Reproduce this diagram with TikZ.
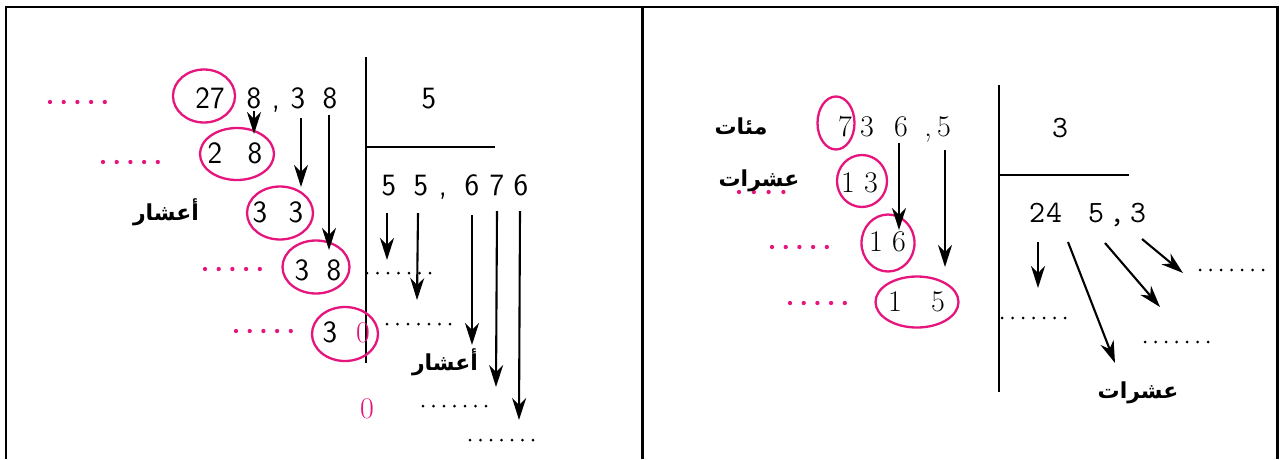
\documentclass[tikz,border=0pt]{standalone}
\usepackage{fontspec}
\TeXXeTstate=1
\newfontfamily\arabicfont[Script=Arabic]{DejaVu Sans}
\usetikzlibrary{shapes.geometric,arrows.meta}
\definecolor{pk}{RGB}{230,20,125}
\tikzset{
  frame/.style={line width=2.8pt, black},
  divline/.style={line width=2.5pt, black},
  digL/.style={inner sep=0pt, anchor=base, font=\sffamily\fontsize{31}{31}\selectfont},
  digR/.style={inner sep=0pt, anchor=base, font=\fontsize{30}{30}\selectfont},
  digM/.style={inner sep=0pt, anchor=base, font=\ttfamily\fontsize{31}{31}\selectfont},
  ring/.style={draw=pk, ellipse, line width=2.3pt, inner sep=0pt},
  arr/.style={line width=2.1pt, -{Stealth[length=22pt,width=14pt,inset=7pt]}},
  ar/.style={inner sep=0pt, font=\arabicfont\bfseries\fontsize{22}{26}\selectfont},
  pdots/.style={draw=pk, line width=4.3pt, line cap=round, dash pattern=on 0pt off 13.7pt},
  bdots/.style={draw=black, line width=3pt, line cap=round, dash pattern=on 0pt off 10.5pt},
}
\begin{document}
\begin{tikzpicture}[x=1pt,y=-1pt]
\useasboundingbox (0,0) rectangle (1284,459);
% frame
\draw[frame] (6,459) -- (6,7) -- (1277.5,7) -- (1277.5,459);
\draw[frame] (642.5,7) -- (642.5,459);

%================ LEFT PANEL ================
% dividend row
\node[digL] (L27) at (210,108) {27};
\node[digL] (L8a) at (254,108) {8};
\node[digL] (Lc1) at (276,108) {,};
\node[digL] (L3a) at (298,108) {3};
\node[digL] (L8b) at (330,108) {8};
\node[ring, minimum width=62pt, minimum height=53pt] (E27) at (204,96) {};
\draw[pdots] (50,102) -- (110,102);

% division bracket
\draw[divline] (366,57) -- (366,363);
\draw[divline] (366,147) -- (495,147);
\node[digL] (Ldiv) at (429,108) {5};

% quotient
\node[digL] (Q1) at (389,195) {5};
\node[digL] (Q2) at (421,195) {5};
\node[digL] (Qc) at (443,195) {,};
\node[digL] (Q3) at (472,195) {6};
\node[digL] (Q4) at (497,195) {7};
\node[digL] (Q5) at (521,195) {6};

% partial remainders
\node[digL] (R28a) at (215,163) {2};
\node[digL] (R28b) at (255,163) {8};
\node[ring, minimum width=74pt, minimum height=52pt] (E28) at (237,154) {};
\draw[pdots] (103,162) -- (160,162);

\node[digL] (R33a) at (260,222) {3};
\node[digL] (R33b) at (296,222) {3};
\node[ring, minimum width=66pt, minimum height=53pt] (E33) at (280,213) {};
\node[ar] (T1) at (166,212) {\beginR أعشار\endR};

\node[digL] (R38a) at (302,280) {3};
\node[digL] (R38b) at (334,280) {8};
\node[ring, minimum width=67pt, minimum height=53pt] (E38) at (316,267) {};
\draw[pdots] (205,269) -- (262,269);

\node[digL] (R30a) at (330,342) {3};
\node[digR, text=pk] (R30b) at (363,342) {0};
\node[ring, minimum width=66pt, minimum height=54pt] (E30) at (345,334) {};
\draw[pdots] (236,331) -- (293,331);

\node[ar] (T2) at (445,362) {\beginR أعشار\endR};
\node[digR, text=pk] (Z0) at (367,418) {0};

% black dotted rows
\draw[bdots] (367,273) -- (434,273);
\draw[bdots] (387,324) -- (454,324);
\draw[bdots] (423,406) -- (490,406);
\draw[bdots] (470,440) -- (537,440);

% arrows (left)
\coordinate (a1s) at (254,111); \coordinate (a1e) at (254,134);
\coordinate (a2s) at (301,118); \coordinate (a2e) at (301,187);
\coordinate (a3s) at (329,115); \coordinate (a3e) at (329,250);
\coordinate (a4s) at (387,213); \coordinate (a4e) at (387,260);
\coordinate (a5s) at (418,213); \coordinate (a5e) at (417,300);
\coordinate (a6s) at (472,215); \coordinate (a6e) at (472,345);
\coordinate (a7s) at (497,211); \coordinate (a7e) at (496,387);
\coordinate (a8s) at (520,211); \coordinate (a8e) at (519,420);
\draw[arr] (a1s) -- (a1e);
\draw[arr] (a2s) -- (a2e);
\draw[arr] (a3s) -- (a3e);
\draw[arr] (a4s) -- (a4e);
\draw[arr] (a5s) -- (a5e);
\draw[arr] (a6s) -- (a6e);
\draw[arr] (a7s) -- (a7e);
\draw[arr] (a8s) -- (a8e);

%================ RIGHT PANEL ================
\node[ar] (T3) at (741,126) {\beginR مئات\endR};
\draw[pdots, dash pattern=on 0pt off 14.8pt] (739,192) -- (786,192);
\node[ar] (T4) at (759,181) {\beginR عشرات\endR};

\node[digR] (D7) at (845,136) {7};
\node[digR] (D3) at (867,136) {3};
\node[digR] (D6) at (901,136) {6};
\node[digR] (Dc) at (928,136) {,};
\node[digR] (D5) at (944,136) {5};
\node[ring, minimum width=37pt, minimum height=53pt] (E7) at (836,123) {};

\node[digR] (S13a) at (848,192) {1};
\node[digR] (S13b) at (871,192) {3};
\node[ring, minimum width=50pt, minimum height=52pt] (E13) at (862,181) {};

\node[digR] (S16a) at (876,251) {1};
\node[digR] (S16b) at (899,251) {6};
\node[ring, minimum width=53pt, minimum height=57pt] (E16) at (888,243) {};
\draw[pdots] (772,247) -- (830,247);

\node[digR] (S15a) at (895,311) {1};
\node[digR] (S15b) at (938,311) {5};
\node[ring, minimum width=83pt, minimum height=51pt] (E15) at (917,302) {};
\draw[pdots] (790,303) -- (847,303);

\coordinate (b1s) at (899,143); \coordinate (b1e) at (899,230);
\coordinate (b2s) at (945,150); \coordinate (b2e) at (945,267);
\draw[arr] (b1s) -- (b1e);
\draw[arr] (b2s) -- (b2e);

% division bracket (right)
\draw[divline] (999,85) -- (999,392);
\draw[divline] (999,175) -- (1129,175);
\node[digM] (Rdiv) at (1060,137) {3};

\node[digM] (P2) at (1037,222) {2};
\node[digM] (P4) at (1054,222) {4};
\node[digM] (P5) at (1096,222) {5};
\node[digM] (Pc) at (1117,222) {,};
\node[digM] (P3) at (1138,222) {3};

\coordinate (c1s) at (1038,242); \coordinate (c1e) at (1038,288);
\coordinate (c2s) at (1068,242); \coordinate (c2e) at (1115,363);
\coordinate (c3s) at (1105,243); \coordinate (c3e) at (1160,307);
\coordinate (c4s) at (1142,239); \coordinate (c4e) at (1183,273);
\draw[arr] (c1s) -- (c1e);
\draw[arr] (c2s) -- (c2e);
\draw[arr] (c3s) -- (c3e);
\draw[arr] (c4s) -- (c4e);

\draw[bdots] (1200,270) -- (1267,270);
\draw[bdots] (1002,318) -- (1069,318);
\draw[bdots] (1145,342) -- (1212,342);

\node[ar] (T5) at (1138,393) {\beginR عشرات\endR};
\end{tikzpicture}
\end{document}
